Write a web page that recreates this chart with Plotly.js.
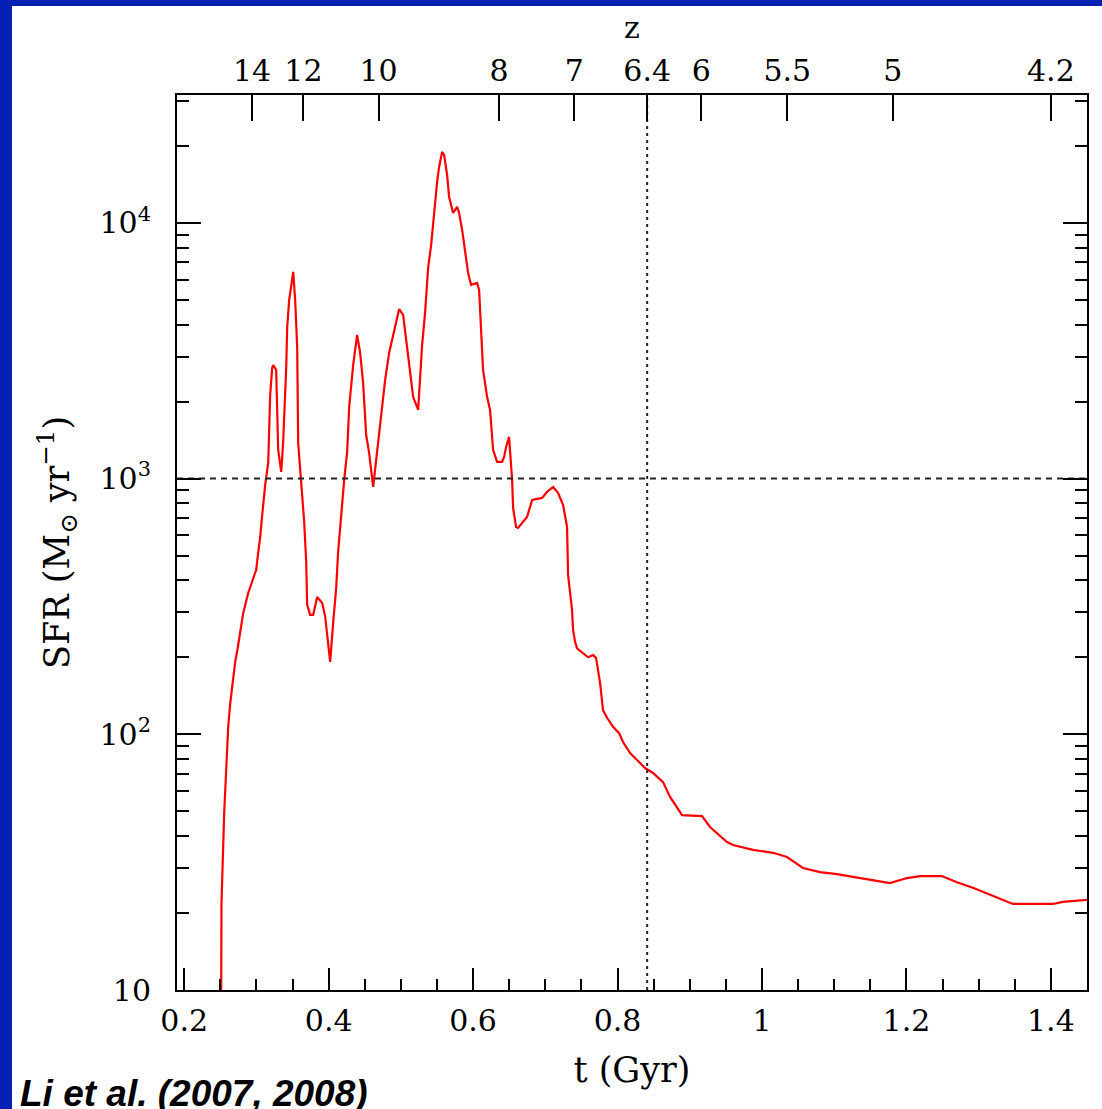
<!DOCTYPE html>
<html>
<head>
<meta charset="utf-8">
<script src="https://cdn.plot.ly/plotly-3.0.1.min.js"></script>
<style>
  html, body { margin: 0; padding: 0; width: 1102px; height: 1109px; overflow: hidden; background: #0521b3; }
  #chart { position: absolute; left: 12px; top: 6px; width: 1090px; height: 1103px; background: #ffffff; }
</style>
</head>
<body>
<div id="chart"></div>
<script>
// Cosmic time (Gyr) and star formation rate (Msun/yr)
const tGyr = [0.2512,0.2516,0.2554,0.2581,0.2609,0.2637,0.2674,0.2706,0.2740,0.2775,0.2817,0.2886,0.2955,0.2997,0.3024,0.3052,0.3080,0.3121,0.3163,0.3190,0.3218,0.3232,0.3273,0.3287,0.3301,0.3343,0.3370,0.3412,0.3426,0.3453,0.3509,0.3536,0.3564,0.3578,0.3633,0.3661,0.3689,0.3702,0.3744,0.3785,0.3841,0.3910,0.3952,0.3979,0.4021,0.4062,0.4104,0.4131,0.4173,0.4215,0.4256,0.4284,0.4339,0.4394,0.4436,0.4477,0.4519,0.4560,0.4616,0.4671,0.4727,0.4782,0.4837,0.4907,0.4976,0.5031,0.5087,0.5114,0.5170,0.5239,0.5294,0.5336,0.5363,0.5377,0.5419,0.5446,0.5474,0.5502,0.5529,0.5571,0.5599,0.5640,0.5668,0.5709,0.5723,0.5779,0.5806,0.5848,0.5889,0.5931,0.5972,0.6055,0.6083,0.6111,0.6138,0.6194,0.6235,0.6263,0.6277,0.6332,0.6401,0.6429,0.6457,0.6498,0.6540,0.6554,0.6595,0.6623,0.6692,0.6747,0.6817,0.6955,0.7024,0.7107,0.7176,0.7246,0.7301,0.7315,0.7370,0.7384,0.7412,0.7439,0.7592,0.7661,0.7702,0.7758,0.7799,0.7855,0.7938,0.8021,0.8076,0.8173,0.8270,0.8381,0.8491,0.8630,0.8727,0.8893,0.9170,0.9280,0.9516,0.9599,0.9875,1.0152,1.0346,1.0567,1.0803,1.1038,1.1260,1.1536,1.1772,1.2007,1.2187,1.2491,1.2699,1.2920,1.3114,1.3336,1.3474,1.4028,1.4166,1.4498];
const sfr = [10,21.9,49.7,78,107,132,163,192,217,249,298,357,412,440,512,591,721,944,1151,2123,2711,2779,2661,1694,1294,1062,1390,2711,3917,4990,6430,4990,3275,1377,879,677,472,321,293,293,344,326,288,240,192,272,373,516,733,988,1271,1905,2779,3648,3099,2366,1483,1260,927,1294,1806,2432,3099,3811,4603,4363,3275,2731,2083,1855,3336,4487,5561,6668,8201,10090,12310,14450,16550,18940,18440,15390,12620,11220,10930,11540,10930,9380,7690,6370,5720,5820,5470,3648,2661,2083,1855,1456,1294,1162,1162,1214,1329,1456,988,767,647,641,677,708,825,840,887,927,879,788,647,420,306,256,230,217,200,204,199,159,124,116,107,101,93.3,84.5,79.3,73.8,70.6,65.0,56.9,48.3,47.9,43.4,37.9,36.9,35.3,34.4,33.1,30.0,28.9,28.4,27.7,26.9,26.2,27.4,27.9,27.9,26.4,25.1,23.9,22.5,21.7,21.7,22.1,22.5];

// Top axis: redshift labels and the cosmic times where they sit
const zLabels = ['14','12','10','8','7','6.4','6','5.5','5','4.2'];
const zTickTimes = [0.294,0.365,0.469,0.636,0.740,0.841,0.916,1.035,1.181,1.400];

// Bottom axis ticks
const tTickVals = [0.2,0.4,0.6,0.8,1.0,1.2,1.4];
const tTickText = ['0.2','0.4','0.6','0.8','1','1.2','1.4'];

// Left axis ticks
const sfrTickVals = [10,100,1000,10000];
const sfrTickText = ['10','10<sup>2</sup>','10<sup>3</sup>','10<sup>4</sup>'];
const sfrMinorVals = [20,30,40,50,60,70,80,90,200,300,400,500,600,700,800,900,2000,3000,4000,5000,6000,7000,8000,9000,20000,30000];

// Reference lines
const refSFR = 1000;          // horizontal dashed line
const refZLabel = '6.4';      // vertical dotted line at this redshift
const tRange = [0.19, 1.45];
const logSfrRange = [1, 4.5];

const refT = zTickTimes[zLabels.indexOf(refZLabel)];

const serif = '"DejaVu Serif", serif';
const black = '#000000';

const traces = [
  {
    x: tRange, y: [refSFR, refSFR], xaxis: 'x', yaxis: 'y2',
    mode: 'lines', line: {color: '#222222', width: 2, dash: '6px,5px'},
    hoverinfo: 'skip', showlegend: false
  },
  {
    x: [refT, refT], y: [Math.pow(10, logSfrRange[0]), Math.pow(10, logSfrRange[1])], xaxis: 'x2', yaxis: 'y',
    mode: 'lines', line: {color: '#222222', width: 2, dash: '3px,4px'},
    hoverinfo: 'skip', showlegend: false
  },
  {
    x: tGyr, y: sfr, xaxis: 'x', yaxis: 'y',
    mode: 'lines', line: {color: '#ff0000', width: 2.2, shape: 'linear'},
    showlegend: false
  }
];

const layout = {
  width: 1090, height: 1103,
  margin: {l: 165, r: 15, t: 89, b: 119},
  paper_bgcolor: '#ffffff', plot_bgcolor: '#ffffff',
  showlegend: false,
  font: {family: serif, color: black, size: 30},
  xaxis: {
    range: tRange, side: 'bottom', anchor: 'y',
    showgrid: false, zeroline: false,
    showline: true, linecolor: black, linewidth: 2, mirror: false,
    tickmode: 'array', tickvals: tTickVals, ticktext: tTickText,
    ticks: 'inside', ticklen: 22, tickwidth: 2, tickcolor: black,
    ticklabelstandoff: 3,
    minor: {dtick: 0.05, tick0: 0.2, ticks: 'inside', ticklen: 11, tickwidth: 2, tickcolor: black, showgrid: false},
    tickfont: {family: serif, size: 30, color: black},
    title: {text: 't (Gyr)', font: {family: serif, size: 35, color: black}, standoff: 20}
  },
  xaxis2: {
    range: tRange, overlaying: 'x', side: 'top', anchor: 'y',
    showgrid: false, zeroline: false,
    showline: true, linecolor: black, linewidth: 2,
    tickmode: 'array', tickvals: zTickTimes, ticktext: zLabels,
    ticks: 'inside', ticklen: 26, tickwidth: 2, tickcolor: black,
    ticklabelstandoff: 0,
    tickfont: {family: serif, size: 30, color: black},
    title: {text: 'z', font: {family: serif, size: 30, color: black}, standoff: 6}
  },
  yaxis: {
    type: 'log', range: logSfrRange, anchor: 'x', side: 'left',
    showgrid: false, zeroline: false,
    showline: true, linecolor: black, linewidth: 2, mirror: 'ticks',
    tickmode: 'array', tickvals: sfrTickVals, ticktext: sfrTickText,
    ticks: 'inside', ticklen: 24, tickwidth: 2, tickcolor: black,
    ticklabelstandoff: 18,
    tickfont: {family: serif, size: 30, color: black},
    title: {text: 'SFR (M<sub>\u2299</sub> yr<sup>\u22121</sup>)', font: {family: serif, size: 35, color: black}, standoff: 19}
  },
  yaxis2: {
    type: 'log', range: logSfrRange, overlaying: 'y', anchor: 'x', side: 'left',
    showgrid: false, zeroline: false,
    showline: false, mirror: 'ticks',
    tickmode: 'array', tickvals: sfrMinorVals,
    ticks: 'inside', ticklen: 12, tickwidth: 2, tickcolor: black,
    showticklabels: false
  },
  annotations: [
    {
      text: '<b><i>Li et al. (2007, 2008)</i></b>',
      xref: 'paper', yref: 'paper', x: -0.1747, y: -0.091,
      xanchor: 'left', yanchor: 'top', showarrow: false,
      font: {family: '"Liberation Sans", Arial, sans-serif', size: 37, color: black}
    }
  ]
};

Plotly.newPlot('chart', traces, layout, {staticPlot: true, displayModeBar: false});
</script>
</body>
</html>
